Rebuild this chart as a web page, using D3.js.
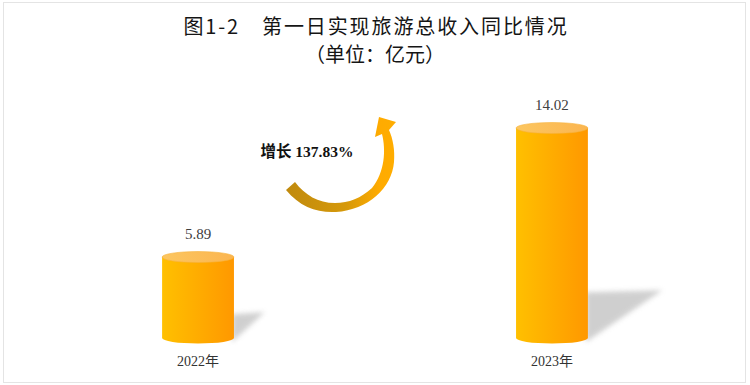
<!DOCTYPE html>
<html lang="zh">
<head>
    <meta charset="UTF-8">
    <title>第一日实现旅游总收入同比情况</title>
    <script src="https://d3js.org/d3.v7.min.js"></script>
    <style>
        body { margin: 0; background: #fff; }
        .title { font-family: "Noto Sans CJK SC", sans-serif; font-size: 20px; font-weight: 400; fill: #151515; }
        .val { font-family: "Liberation Serif", "Noto Sans CJK SC", serif; font-size: 15px; fill: #404040; }
        .axis-x text { font-family: "Liberation Serif", "Noto Sans CJK SC", serif; font-size: 14px; fill: #333; }
        .growth { font-family: "Liberation Serif", "Noto Sans CJK SC", serif; font-size: 15.5px; font-weight: bold; fill: #111; }
    </style>
</head>
<body>
    <svg width="750" height="385"></svg>

    <script>
        const years = ["2022年", "2023年"];
        const income = [5.89, 14.02];
        const growthLabel = "增长 137.83%";
        const titleLines = ["图1-2\u3000第一日实现旅游总收入同比情况", "（单位：亿元）"];

        const data = years.map((y, i) => ({ year: y, value: income[i] }));

        const W = 750, H = 385;
        const baseY = 338;   // bottom of the cylinders

        const svg = d3.select("svg");
        const defs = svg.append("defs");

        // frame
        svg.append("rect")
            .attr("x", 3.5).attr("y", 2.5)
            .attr("width", 742).attr("height", 380)
            .attr("fill", "#fff")
            .attr("stroke", "#e4e4e4");

        const body = defs.append("linearGradient").attr("id", "body");
        body.append("stop").attr("offset", "0%").attr("stop-color", "#ffc000");
        body.append("stop").attr("offset", "100%").attr("stop-color", "#ff9800");

        const cap = defs.append("linearGradient").attr("id", "cap");
        cap.append("stop").attr("offset", "0%").attr("stop-color", "#fcc660");
        cap.append("stop").attr("offset", "100%").attr("stop-color", "#fbb550");

        const arrowGrad = defs.append("linearGradient").attr("id", "arrowGrad")
            .attr("gradientUnits", "userSpaceOnUse")
            .attr("x1", 286).attr("y1", 0).attr("x2", 396).attr("y2", 0);
        arrowGrad.append("stop").attr("offset", "0%").attr("stop-color", "#c08a0e");
        arrowGrad.append("stop").attr("offset", "55%").attr("stop-color", "#d6990a");
        arrowGrad.append("stop").attr("offset", "85%").attr("stop-color", "#ffab00");
        arrowGrad.append("stop").attr("offset", "100%").attr("stop-color", "#ffad00");

        defs.append("filter").attr("id", "blur")
            .attr("x", "-20%").attr("y", "-20%").attr("width", "140%").attr("height", "140%")
            .append("feGaussianBlur").attr("stdDeviation", 2.5);

        // title
        svg.append("text").attr("class", "title")
            .attr("x", W / 2 + 1).attr("y", 34)
            .attr("text-anchor", "middle")
            .attr("letter-spacing", "1.9px")
            .text(titleLines[0]);
        svg.append("text").attr("class", "title")
            .attr("x", W / 2).attr("y", 62)
            .attr("text-anchor", "middle")
            .text(titleLines[1]);

        const x = d3.scaleBand()
            .domain(years)
            .range([0, W])
            .paddingInner(0.797)
            .paddingOuter(0.458);

        const y = d3.scaleLinear()
            .domain([0, 16])
            .range([350.5, 96.6]);

        const bw = x.bandwidth();
        const rx = bw / 2, ry = 5.5;

        const g = svg.selectAll(".bar").data(data).enter()
            .append("g").attr("class", "bar");

        // shadows
        g.append("path")
            .attr("fill", "#c4c4c4")
            .attr("opacity", 0.8)
            .attr("filter", "url(#blur)")
            .attr("d", d => {
                const h = baseY - y(d.value);
                const xr = x(d.year) + bw - 2;
                const up = 10 + 0.17 * h, right = 5 + 0.34 * h;
                return `M${xr},${baseY - up}L${xr + right},${baseY - up - 2}L${xr},${baseY + 4}Z`;
            });

        // cylinder body
        g.append("path")
            .attr("fill", "url(#body)")
            .attr("d", d => {
                const x0 = x(d.year), yt = y(d.value);
                return `M${x0},${yt}L${x0},${baseY}A${rx},${ry} 0 0 0 ${x0 + bw},${baseY}L${x0 + bw},${yt}Z`;
            });

        // top cap
        g.append("ellipse")
            .attr("cx", d => x(d.year) + rx)
            .attr("cy", d => y(d.value))
            .attr("rx", rx).attr("ry", ry)
            .attr("fill", "url(#cap)")
            .attr("stroke", "#f7b23a").attr("stroke-width", 0.6);

        // value labels
        g.append("text").attr("class", "val")
            .attr("x", d => x(d.year) + rx)
            .attr("y", d => y(d.value) - 18)
            .attr("text-anchor", "middle")
            .text(d => d.value.toFixed(2));

        // x axis labels
        const xAxis = d3.axisBottom(x).tickSize(0).tickPadding(0);
        const ax = svg.append("g")
            .attr("class", "axis-x")
            .attr("transform", `translate(0, ${baseY + 18})`)
            .call(xAxis);
        ax.select(".domain").remove();

        // growth arrow
        svg.append("path")
            .attr("fill", "url(#arrowGrad)")
            .attr("d", "M286,190 C300,207 317,213 336,212 C368,210 392,188 394,162 " +
                       "C395,150 393,139 389,130 L396,122 L379,117 L375,137 L382,134 " +
                       "C386,150 385,172 372,188 C361,198 349,203 335,203 " +
                       "C318,203 305,195 295,182 Z");

        svg.append("text").attr("class", "growth")
            .attr("x", 307).attr("y", 157)
            .attr("text-anchor", "middle")
            .text(growthLabel);
    </script>
</body>
</html>
